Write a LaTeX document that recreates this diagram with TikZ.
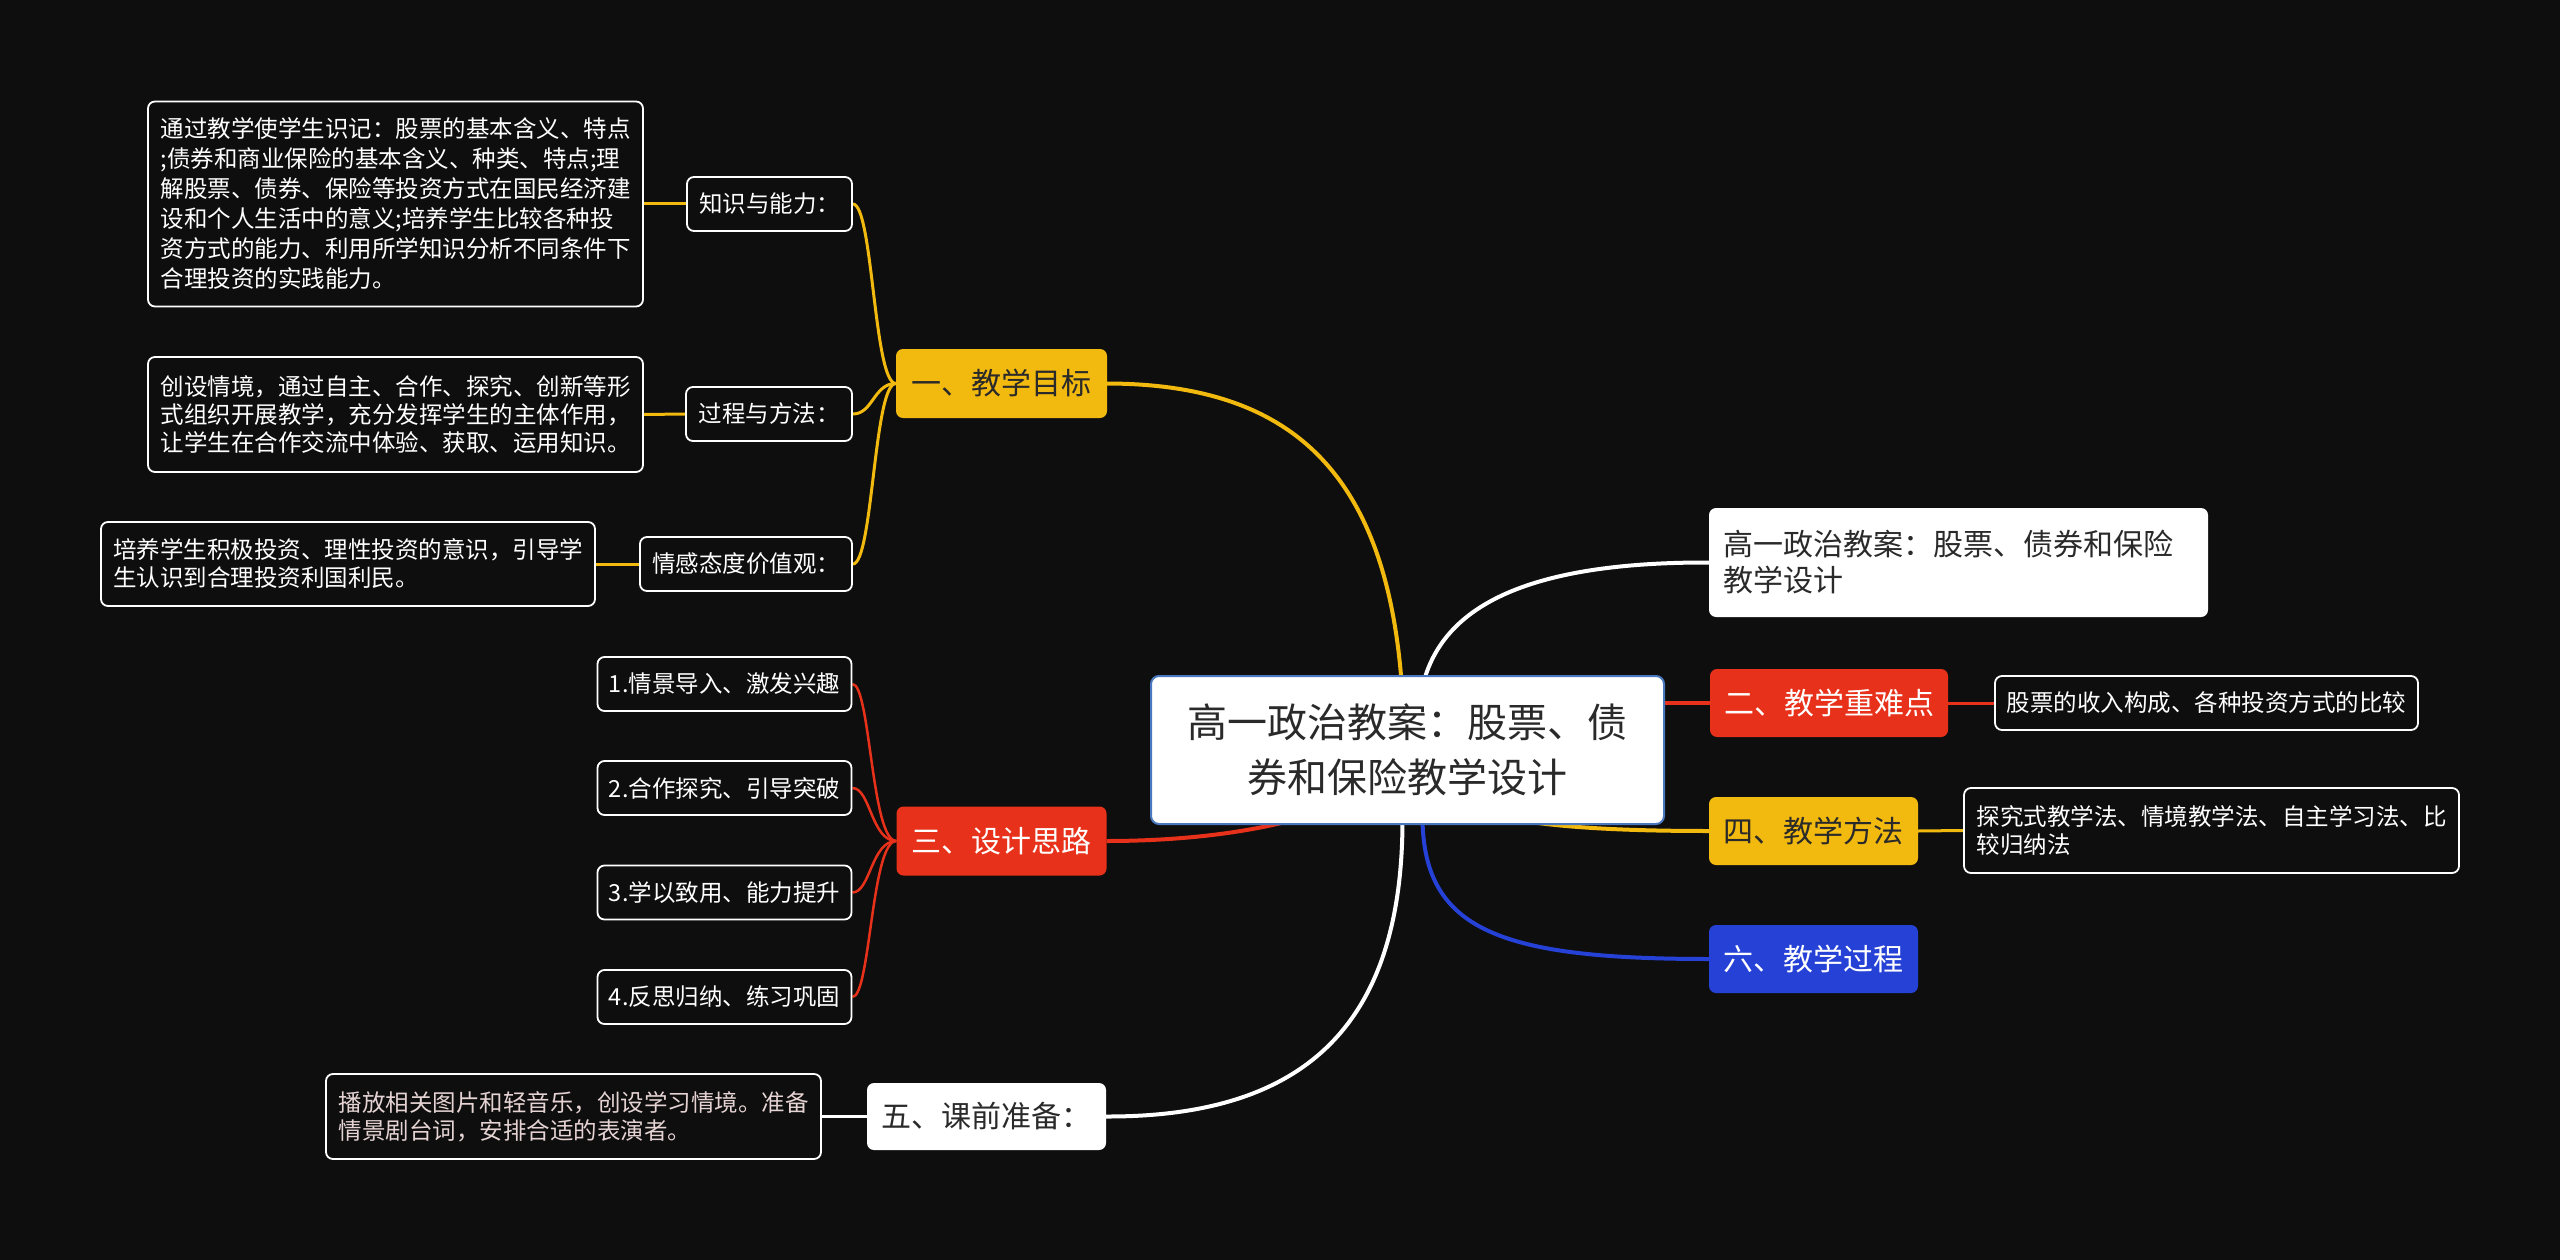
\documentclass[tikz,border=0pt]{standalone}
\usepackage{fontspec}
\setmainfont{Noto Sans CJK SC}
\pgfdeclarelayer{back}
\pgfdeclarelayer{edges}
\pgfsetlayers{back,edges,main}
\definecolor{bgc}{HTML}{0E0E0E}
\definecolor{ylw}{HTML}{F2B90F}
\definecolor{rdc}{HTML}{E8311A}
\definecolor{blc}{HTML}{2541D6}
\definecolor{rootb}{HTML}{4A78C0}
\definecolor{dk}{HTML}{2A2A2A}
\definecolor{pk}{HTML}{E6D3D3}
\tikzset{
  rootnode/.style={rounded corners=8pt, inner sep=0pt, align=center, fill=white, draw=rootb, line width=2pt, text=dk, font=\fontsize{40}{55}\selectfont},
  mainnode/.style={rounded corners=7pt, inner sep=0pt, align=center, font=\fontsize{30}{36}\selectfont},
  subnode/.style={rounded corners=7pt, inner sep=0pt, align=center, draw=white, line width=1.8pt, fill=bgc, text=white, font=\fontsize{23.5}{28}\selectfont},
  textbox/.style={subnode, align=left},
  mainedge/.style={line width=4pt},
  subedge/.style={line width=3pt},
}
\begin{document}
\begin{tikzpicture}[x=1pt,y=-1pt]
\begin{pgfonlayer}{back}
\fill[bgc] (0,0) rectangle (2560,1260);
\end{pgfonlayer}
\useasboundingbox (0,0) rectangle (2560,1260);

% root
\node[rootnode, minimum width=513pt, minimum height=148pt] (root) at (1407.5,750) {高一政治教案：股票、债\\券和保险教学设计};

% branch 1
\node[mainnode, fill=ylw, text=dk, minimum width=211pt, minimum height=69pt] (m1) at (1001.5,383.5) {一、教学目标};
\node[subnode, minimum width=165pt, minimum height=54pt] (k1) at (769.5,204) {知识与能力：};
\node[textbox, font=\fontsize{23.5}{30}\selectfont, minimum width=495pt, minimum height=205pt] (t1) at (395.5,204) {通过教学使学生识记：股票的基本含义、特点\\;债券和商业保险的基本含义、种类、特点;理\\解股票、债券、保险等投资方式在国民经济建\\设和个人生活中的意义;培养学生比较各种投\\资方式的能力、利用所学知识分析不同条件下\\合理投资的实践能力。};
\node[subnode, minimum width=166pt, minimum height=54pt] (k2) at (769,414) {过程与方法：};
\node[textbox, minimum width=495pt, minimum height=115pt] (t2) at (395.5,414.5) {创设情境，通过自主、合作、探究、创新等形\\式组织开展教学，充分发挥学生的主体作用，\\让学生在合作交流中体验、获取、运用知识。};
\node[subnode, minimum width=212pt, minimum height=54pt] (k3) at (746,564) {情感态度价值观：};
\node[textbox, minimum width=494pt, minimum height=84pt] (t3) at (348,564) {培养学生积极投资、理性投资的意识，引导学\\生认识到合理投资利国利民。};

% branch 3
\node[mainnode, fill=rdc, text=white, minimum width=210pt, minimum height=69pt] (m3) at (1001.5,841) {三、设计思路};
\node[subnode, minimum width=254pt, minimum height=54pt] (s1) at (724.5,684) {1.情景导入、激发兴趣};
\node[subnode, minimum width=254pt, minimum height=54pt] (s2) at (724.5,788) {2.合作探究、引导突破};
\node[subnode, minimum width=254pt, minimum height=54pt] (s3) at (724.5,892.5) {3.学以致用、能力提升};
\node[subnode, minimum width=254pt, minimum height=54pt] (s4) at (724.5,997) {4.反思归纳、练习巩固};

% branch 5
\node[mainnode, fill=white, text=dk, minimum width=239pt, minimum height=67pt] (m5) at (986.5,1116.5) {五、课前准备：};
\node[textbox, text=pk, minimum width=495pt, minimum height=85pt] (t5) at (573.5,1116.5) {播放相关图片和轻音乐，创设学习情境。准备\\情景剧台词，安排合适的表演者。};

% right side
\node[mainnode, fill=white, text=dk, align=left, text width=470pt, inner xsep=14.5pt, minimum height=109pt] (m0) at (1958.5,562.5) {高一政治教案：股票、债券和保险\\教学设计};
\node[mainnode, fill=rdc, text=white, minimum width=238pt, minimum height=68pt] (m2) at (1829,703) {二、教学重难点};
\node[subnode, minimum width=423pt, minimum height=54pt] (t6) at (2206.5,703) {股票的收入构成、各种投资方式的比较};
\node[mainnode, fill=ylw, text=dk, minimum width=209pt, minimum height=68pt] (m4) at (1813.5,831) {四、教学方法};
\node[textbox, minimum width=495pt, minimum height=85pt] (t7) at (2211.5,830.5) {探究式教学法、情境教学法、自主学习法、比\\较归纳法};
\node[mainnode, fill=blc, text=white, minimum width=209pt, minimum height=68pt] (m6) at (1813.5,959) {六、教学过程};

\begin{pgfonlayer}{edges}
% main edges
\draw[ylw, mainedge] ([xshift=-3.5pt]root.center) .. controls (1404,480) and (1300,384) .. (m1.east);
\draw[white, mainedge] ([xshift=17pt,yshift=-4pt]root.north) .. controls (1445,610) and (1520,562) .. (m0.west);
\draw[rdc, mainedge] (root.east |- m2.west) -- (m2.west);
\draw[ylw, mainedge] (root.center) .. controls (1420,810) and (1500,831) .. (m4.west);
\draw[blc, mainedge] ([xshift=15pt,yshift=4pt]root.south) .. controls (1425,930) and (1500,959) .. (m6.west);
\draw[white, mainedge] ([xshift=-5pt,yshift=4pt]root.south) .. controls (1402,1030) and (1300,1117) .. (m5.east);
\draw[rdc, mainedge] (root.center) .. controls (1380,810) and (1250,841) .. (m3.east);
% branch 1 sub edges
\foreach \n in {k1,k2,k3}
  \draw[ylw, subedge] (m1.west) .. controls +(-22,0) and +(20,0) .. (\n.east);
\draw[ylw, subedge] (k1.west) -- (t1.east);
\draw[ylw, subedge] (k2.west) -- (t2.east);
\draw[ylw, subedge] (k3.west) -- (t3.east);
% branch 3 sub edges
\foreach \n in {s1,s2,s3,s4}
  \draw[rdc, line width=2.5pt] (m3.west) .. controls +(-25,0) and +(18,0) .. (\n.east);
% others
\draw[white, subedge] (m5.west) -- (t5.east);
\draw[rdc, subedge] (m2.east) -- (t6.west);
\draw[ylw, subedge] (m4.east) -- (t7.west);
\end{pgfonlayer}
\end{tikzpicture}
\end{document}
